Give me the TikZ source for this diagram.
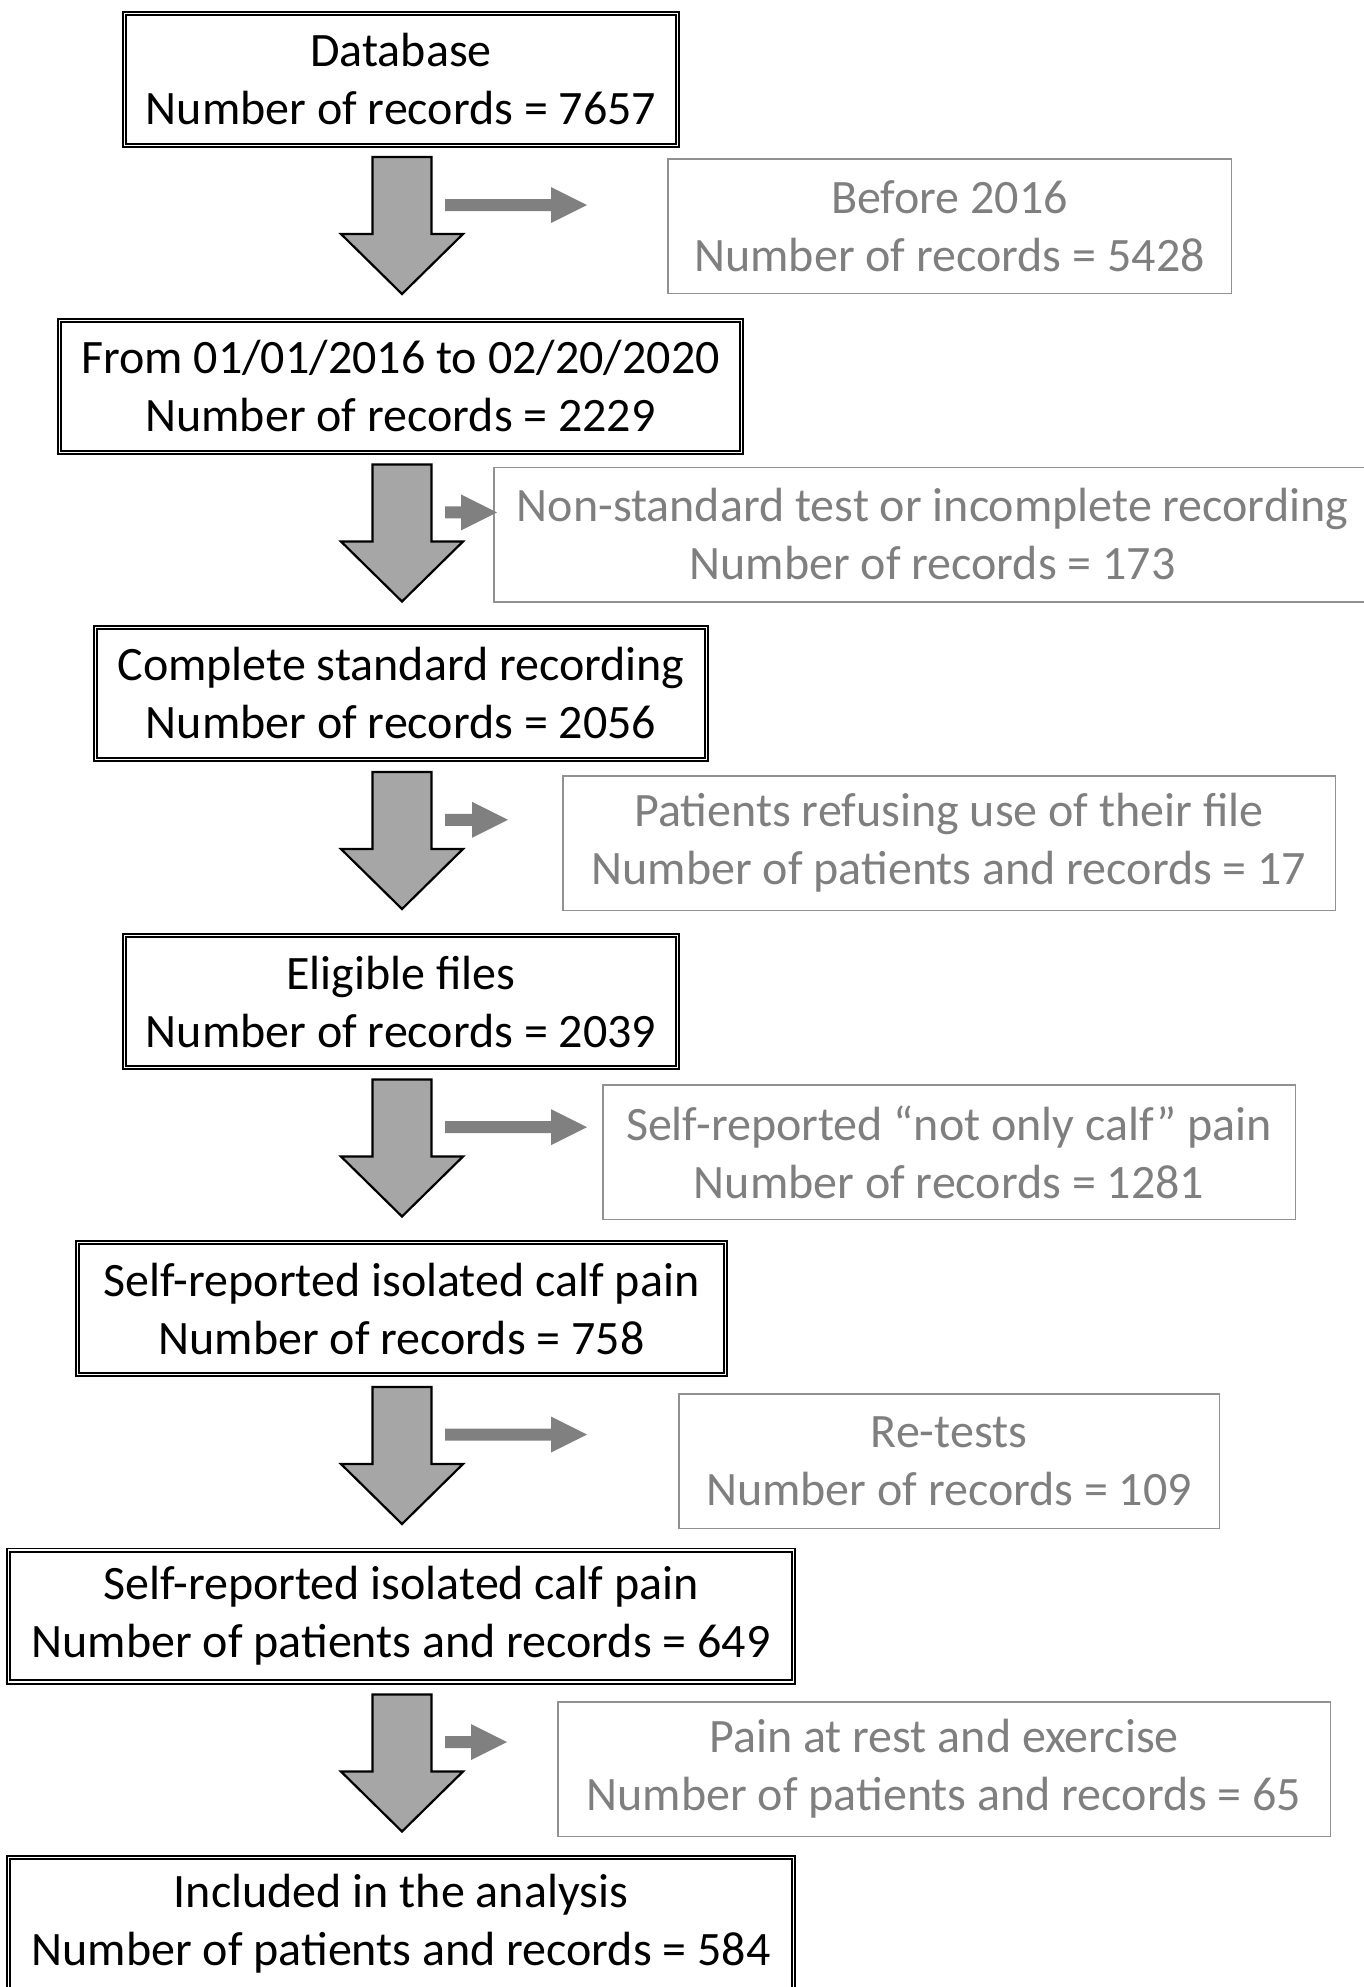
\documentclass[tikz,border=0pt]{standalone}
\usepackage{fontspec}
\setmainfont{Carlito}
\usetikzlibrary{calc}

\definecolor{exclgray}{RGB}{127,127,127}
\definecolor{excledge}{RGB}{145,145,145}
\definecolor{downfill}{RGB}{166,166,166}
\definecolor{sidefill}{RGB}{128,128,128}

\tikzset{
  mainbox/.style={draw=black, line width=0.9pt, double, double distance=0.8pt,
    align=center, inner sep=0pt, minimum height=65.9pt},
  exclbox/.style={draw=excledge, line width=0.75pt, text=exclgray,
    align=center, inner sep=0pt, minimum height=67.25pt},
  downarrow/.style={draw=black, line width=1.1pt, fill=downfill, line join=miter},
  sidearrow/.style={fill=sidefill}
}

\begin{document}
\begin{tikzpicture}[x=0.5pt, y=-0.5pt, every node/.style={font=\fontsize{24}{29}\selectfont}]

  \useasboundingbox (0,0) rectangle (1364,1987);

  \node[mainbox, minimum width=276.4pt] (m1) at (401,79.5)
    {Database\\Number of records = 7657};
  \node[mainbox, minimum width=340.9pt] (m2) at (400.5,386.5)
    {From 01/01/2016 to 02/20/2020\\Number of records = 2229};
  \node[mainbox, minimum width=305.4pt] (m3) at (401,693.5)
    {Complete standard recording\\Number of records = 2056};
  \node[mainbox, minimum width=276.4pt] (m4) at (401,1001.5)
    {Eligible files\\Number of records = 2039};
  \node[mainbox, minimum width=323.9pt] (m5) at (401.5,1308.5)
    {Self-reported isolated calf pain\\Number of records = 758};
  \node[mainbox, minimum width=392.4pt] (m6) at (401,1616)
    {Self-reported isolated calf pain\\Number of patients and records = 649};
  \node[mainbox, minimum width=392.4pt] (m7) at (401,1923.5)
    {Included in the analysis\\Number of patients and records = 584};

  \node[exclbox, minimum width=281.75pt] (e1) at (949.5,226)
    {Before 2016\\Number of records = 5428};
  \node[exclbox, minimum width=438.75pt] (e2) at (932.5,534.5)
    {Non-standard test or incomplete recording\\Number of records = 173};
  \node[exclbox, minimum width=386.25pt] (e3) at (949,843)
    {Patients refusing use of their file\\Number of patients and records = 17};
  \node[exclbox, minimum width=346.25pt] (e4) at (949,1152)
    {Self-reported “not only calf” pain\\Number of records = 1281};
  \node[exclbox, minimum width=270.25pt] (e5) at (949,1461)
    {Re-tests\\Number of records = 109};
  \node[exclbox, minimum width=386.25pt] (e6) at (944,1769)
    {Pain at rest and exercise\\Number of patients and records = 65};

  \foreach \i in {1,...,6}
  {
    \pgfmathsetmacro\ytop{157+307.5*(\i-1)}
    \coordinate (d\i) at (402,\ytop);
    \draw[downarrow] ($(d\i)+(-29.5,0)$) -- ++(59,0) -- ++(0,77) -- ++(31.5,0)
      -- ++(-61,60) -- ++(-61,-60) -- ++(31.5,0) -- cycle;
  }

  \foreach \i/\tip in {1/587,2/497,3/508,4/587,5/587,6/507}
  {
    \pgfmathsetmacro\yside{205+307.4*(\i-1)}
    \coordinate (r\i) at (445,\yside);
    \coordinate (t\i) at (\tip,\yside);
    \fill[sidearrow] ($(r\i)+(0,-6)$) -- ($(t\i)+(-36,-6)$) -- ($(t\i)+(-36,-18)$)
      -- (t\i) -- ($(t\i)+(-36,18)$) -- ($(t\i)+(-36,6)$) -- ($(r\i)+(0,6)$) -- cycle;
  }

\end{tikzpicture}
\end{document}
